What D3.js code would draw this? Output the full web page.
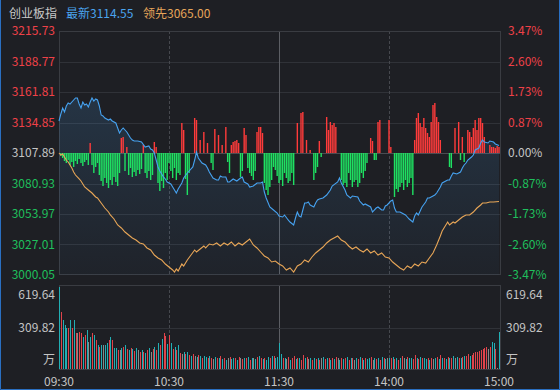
<!DOCTYPE html>
<html>
<head>
<meta charset="utf-8" />
<title>创业板指</title>
<script src="https://d3js.org/d3.v7.min.js"></script>
<style>
  body { margin: 0; background: #1e1f24; }
  svg text { font-family: "Noto Sans CJK SC", "Noto Sans", sans-serif; font-size: 12px; }
</style>
</head>
<body>
<script>

// ---- data ----
var indexName = "创业板指";
var lastPrice = 3114.55;
var leadPrice = 3065.00;
var basePrice = 3107.89;
var priceTicks = [3215.73, 3188.77, 3161.81, 3134.85, 3107.89, 3080.93, 3053.97, 3027.01, 3000.05];
var pctTicks = ["3.47%", "2.60%", "1.73%", "0.87%", "0.00%", "-0.87%", "-1.73%", "-2.60%", "-3.47%"];
var volTicks = [619.64, 309.82];
var volUnit = "万";
var timeTicks = [0, 60, 120, 180, 240];
var timeLabels = ["09:30", "10:30", "11:30", "14:00", "15:00"];

// [minute, value]
var indexLine = [[0,3136.18],[1,3142.36],[2,3147.67],[3,3144.13],[4,3149.44],[5,3152.09],[6,3151.20],[8,3154.74],[9,3156.51],[10,3156.51],[11,3151.20],[12,3147.67],[13,3152.97],[14,3150.32],[15,3151.20],[16,3148.55],[17,3152.97],[18,3156.51],[19,3153.85],[20,3155.62],[21,3154.74],[22,3149.44],[23,3141.48],[24,3140.60],[25,3138.83],[27,3137.06],[28,3137.94],[29,3136.18],[31,3134.41],[32,3129.99],[33,3125.57],[34,3128.22],[35,3129.99],[36,3128.22],[37,3126.45],[39,3121.15],[40,3119.38],[41,3118.50],[43,3118.50],[45,3117.61],[47,3113.19],[49,3114.08],[50,3111.43],[51,3110.54],[52,3107.89],[53,3101.70],[54,3095.52],[55,3091.98],[57,3086.68],[58,3084.91],[59,3082.26],[61,3080.49],[62,3077.84],[63,3075.19],[64,3072.53],[65,3076.07],[67,3081.37],[68,3085.79],[70,3090.21],[71,3091.98],[73,3095.52],[74,3101.70],[75,3108.77],[76,3103.47],[78,3099.05],[80,3097.28],[81,3094.63],[82,3091.10],[84,3085.79],[86,3084.02],[87,3084.02],[88,3087.56],[89,3086.68],[91,3086.68],[92,3082.26],[93,3082.26],[95,3084.91],[97,3083.14],[99,3085.79],[100,3086.68],[101,3082.26],[103,3080.49],[104,3077.84],[106,3078.72],[108,3081.37],[110,3081.37],[111,3082.26],[112,3073.42],[113,3068.11],[115,3060.16],[117,3057.51],[119,3054.85],[120,3052.20],[122,3051.32],[123,3053.09],[125,3048.67],[126,3046.90],[128,3044.25],[129,3050.44],[130,3055.74],[131,3052.20],[132,3051.32],[133,3057.51],[134,3063.69],[135,3063.69],[136,3064.58],[137,3061.93],[139,3060.16],[140,3063.69],[141,3066.35],[142,3067.23],[144,3068.11],[146,3070.77],[148,3075.19],[149,3078.72],[152,3082.26],[153,3085.79],[154,3081.37],[156,3075.19],[157,3070.77],[159,3068.11],[160,3069.88],[163,3069.00],[164,3065.46],[166,3061.93],[167,3062.81],[170,3060.16],[171,3055.74],[173,3059.27],[174,3060.16],[176,3057.51],[177,3057.51],[178,3061.04],[179,3061.93],[181,3065.46],[182,3066.35],[183,3059.27],[184,3055.74],[186,3055.74],[187,3054.85],[189,3053.09],[190,3051.32],[191,3049.55],[193,3046.90],[194,3052.20],[195,3054.85],[196,3053.09],[197,3056.62],[198,3060.16],[200,3064.58],[201,3068.11],[202,3068.11],[203,3069.00],[205,3070.77],[206,3072.53],[208,3077.84],[209,3081.37],[211,3083.14],[212,3084.02],[213,3084.02],[214,3087.56],[215,3090.21],[217,3089.33],[219,3091.10],[220,3094.63],[221,3097.28],[222,3099.05],[223,3101.70],[225,3104.35],[226,3106.12],[227,3110.54],[229,3112.31],[230,3116.73],[231,3119.38],[232,3117.61],[234,3116.73],[235,3118.50],[237,3117.61],[238,3115.85],[240,3114.55]];

var leadLine = [[0,3107.89],[1,3106.12],[2,3107.01],[3,3104.35],[4,3101.70],[5,3099.94],[7,3094.63],[8,3091.10],[9,3088.44],[11,3084.91],[12,3083.14],[14,3077.84],[16,3075.19],[18,3072.53],[20,3069.00],[21,3068.11],[23,3063.69],[25,3059.27],[27,3055.74],[28,3053.09],[30,3049.55],[32,3044.25],[34,3041.60],[36,3038.06],[38,3035.41],[40,3032.76],[42,3030.99],[44,3028.34],[46,3027.45],[48,3023.92],[50,3022.15],[52,3017.73],[54,3015.08],[56,3013.31],[58,3009.77],[60,3007.12],[62,3004.47],[63,3002.70],[64,3005.35],[65,3003.59],[67,3009.77],[68,3008.01],[70,3013.31],[72,3017.73],[74,3022.15],[75,3020.38],[77,3023.04],[79,3025.69],[80,3023.92],[82,3027.45],[84,3026.57],[86,3028.34],[88,3025.69],[90,3028.34],[92,3026.57],[94,3029.22],[96,3025.69],[98,3028.34],[100,3026.57],[102,3029.22],[104,3031.87],[106,3026.57],[108,3023.92],[110,3020.38],[112,3016.85],[114,3015.08],[116,3011.54],[118,3012.42],[120,3009.77],[122,3008.01],[124,3004.47],[126,3006.24],[128,3002.70],[130,3008.01],[132,3009.77],[134,3013.31],[136,3011.54],[138,3015.96],[140,3019.50],[142,3022.15],[144,3024.80],[146,3028.34],[148,3030.99],[150,3032.76],[152,3034.52],[154,3030.99],[156,3029.22],[158,3025.69],[160,3023.04],[162,3024.80],[164,3022.15],[166,3020.38],[168,3023.04],[170,3019.50],[172,3021.27],[174,3017.73],[176,3019.50],[178,3015.96],[180,3015.08],[182,3011.54],[184,3008.89],[186,3006.24],[188,3004.47],[190,3008.01],[192,3006.24],[194,3009.77],[196,3008.01],[198,3011.54],[200,3010.66],[202,3015.08],[204,3019.50],[206,3026.57],[208,3034.52],[209,3038.95],[210,3041.60],[212,3046.90],[213,3044.25],[215,3046.90],[216,3046.02],[218,3048.67],[220,3051.32],[222,3053.09],[224,3053.09],[226,3055.74],[228,3059.27],[230,3061.93],[231,3063.69],[233,3063.69],[235,3064.58],[237,3064.58],[240,3065.00]];

// red/green strength bars, one per minute
var flow = [
  0,-3,-5,-8,-10,-7,-12,-9,-14,-8,-11,-6,-10,-13,-9,-7,-12,10,-12,-20,
  -14,-10,-22,-28,-33,-25,-30,-35,-27,-32,-24,-29,-33,-20,15,16,-18,6,-22,-15,
  -24,-19,-23,-17,-21,-16,8,-20,-25,-18,-27,-22,11,6,-30,-38,-28,-35,-20,-27,
  -10,-18,-25,-15,-27,-20,-22,30,23,-26,-42,-20,0,0,35,33,0,13,0,21,
  0,10,0,-10,-17,24,0,18,0,8,0,26,-9,-20,8,11,12,13,10,-24,
  -18,25,18,-15,-20,-23,-27,-18,21,26,26,20,-30,-37,-42,-34,-27,-14,-17,-23,
  -30,-27,-33,-20,-25,-30,-28,-20,-32,0,30,0,40,41,0,13,0,3,0,-27,
  -20,-14,12,-4,0,0,36,23,31,28,30,26,0,0,-27,-32,-30,-34,-20,-27,
  -34,-29,-27,-34,-30,-20,-25,-18,-10,0,15,12,-7,-7,31,33,0,0,0,0,
  33,6,0,-44,-36,-39,-34,-30,-37,-27,-34,-30,-25,-42,13,35,40,30,26,35,
  25,20,16,31,48,50,36,31,13,0,0,0,0,-14,-15,0,25,0,31,-7,
  16,-9,0,23,21,16,25,33,23,35,35,30,16,0,0,8,6,6,5,7,6
];

// volume (万), one per minute
var volume = [
  619,430,370,333,310,310,370,310,370,272,272,280,272,242,257,295,204,242,272,257,
  220,181,170,181,181,181,196,220,242,220,160,160,145,145,160,170,181,150,140,155,
  150,135,160,140,125,145,130,120,140,160,125,150,170,140,200,180,230,270,250,190,
  260,200,150,170,140,180,120,110,130,115,125,105,95,110,100,90,105,95,85,100,
  90,80,95,85,75,90,80,85,95,75,80,70,85,90,75,80,85,70,90,80,
  75,85,80,90,70,80,85,75,90,95,80,75,85,70,90,85,95,100,85,90,
  200,110,85,80,75,90,70,85,95,75,80,85,70,105,80,90,75,85,70,80,
  75,85,70,80,90,75,85,80,70,85,75,90,80,70,85,75,80,90,70,85,
  80,70,85,75,90,80,70,85,75,80,90,70,85,75,80,70,90,85,75,80,
  80,85,90,75,80,70,85,95,80,75,90,80,85,75,105,80,75,90,80,85,
  75,80,70,85,75,80,90,75,105,85,80,75,90,85,80,95,85,90,80,85,
  90,95,100,110,95,105,120,125,130,135,140,150,155,165,150,165,205,195,150,10,280
];
// r = up, t = down, g = flat
var volDir = [
  "trtttrtrtrgrrtrtgtrt", "rtrtgttrtrttrgtrtrtr", "trtgrtrtrtgrtrtrtrrt",
  "rtrtrtrgtrtrtrgtrtrt", "trtrgtrtrtrtgrttrtrg", "rtrtrtgtrtrtrttrtrtt",
  "ttrtgrtrrtrtrrtrgtrt", "rtrgtrtrtrtrgtrtrtrt", "rgtrtrtrttrgtrtrtrtg",
  "trtrtrtrgtrttrrtrtrt", "trtrgtrtrtrtrtrtgtrt", "rtrrtrrrrrrrrrgrttrgt"
].join("");

// ---- drawing ----
var W = 560, H = 390;
var red = "#ef4148", green = "#1fbf5c", grey = "#c4c4c4";

var svg = d3.select("body").append("svg")
  .attr("width", W)
  .attr("height", H);

svg.append("rect").attr("width", W).attr("height", H).attr("fill", "#1e1f24");

var x = d3.scaleLinear().domain([0, 240]).range([59, 499]);
var y = d3.scaleLinear().domain([3000.05, 3215.73]).range([275, 31]);
var yVol = d3.scaleLinear().domain([0, 619.64]).range([369, 287]);
var y0 = y(basePrice);
var yFlow = d3.scaleLinear().domain([-60, 60]).range([y0 + 60, y0 - 60]);

// header
var head = svg.append("text").attr("x", 9).attr("y", 12).attr("dominant-baseline", "central");
head.append("tspan").attr("fill", "#c8c8c8").text(indexName);
head.append("tspan").attr("x", 66).attr("fill", "#4aa3ee").text("最新" + lastPrice.toFixed(2));
head.append("tspan").attr("x", 143).attr("fill", "#e6a55a").text("领先" + leadPrice.toFixed(2));

// grid - price panel
svg.selectAll(".hgrid")
  .data(priceTicks.slice(1, -1))
  .enter().append("line")
  .attr("x1", 59).attr("x2", 501)
  .attr("y1", function(d){ return Math.round(y(d)) + 0.5; })
  .attr("y2", function(d){ return Math.round(y(d)) + 0.5; })
  .attr("stroke", function(d){ return d === basePrice ? "#4a4c52" : "#303238"; });

var vlines = timeTicks.slice(1, -1);
[[31, 275], [285, 369]].forEach(function(r) {
  svg.selectAll(null)
    .data(vlines)
    .enter().append("line")
    .attr("x1", function(d){ return Math.round(x(d)) + 0.5; })
    .attr("x2", function(d){ return Math.round(x(d)) + 0.5; })
    .attr("y1", r[0]).attr("y2", r[1])
    .attr("stroke", function(d){ return d === 120 ? "#5c5e64" : "#46484e"; })
    .attr("stroke-dasharray", function(d){ return d === 120 ? null : "3,2"; });
});

// volume grid
svg.append("line")
  .attr("x1", 59).attr("x2", 501)
  .attr("y1", Math.round(yVol(volTicks[1])) + 0.5).attr("y2", Math.round(yVol(volTicks[1])) + 0.5)
  .attr("stroke", "#303238");

// frames
svg.append("rect").attr("x", 59.5).attr("y", 31.5).attr("width", 441).attr("height", 243)
  .attr("fill", "none").attr("stroke", "#3a3c42");
svg.append("rect").attr("x", 59.5).attr("y", 285.5).attr("width", 441).attr("height", 84)
  .attr("fill", "none").attr("stroke", "#3a3c42");

// area under index line
var defs = svg.append("defs");
var grad = defs.append("linearGradient").attr("id", "ga").attr("x1", 0).attr("y1", 0).attr("x2", 0).attr("y2", 1);
grad.append("stop").attr("offset", "0%").attr("stop-color", "#4aa3ee").attr("stop-opacity", 0.16);
grad.append("stop").attr("offset", "100%").attr("stop-color", "#4aa3ee").attr("stop-opacity", 0.03);

svg.append("path")
  .datum(indexLine)
  .attr("fill", "url(#ga)")
  .attr("d", d3.area()
    .x(function(d){ return x(d[0]); })
    .y0(275)
    .y1(function(d){ return y(d[1]); }));

// strength bars (zero values give zero height)
svg.selectAll(".flow")
  .data(flow)
  .enter().append("rect")
  .attr("x", function(d, i){ return x(i) - 0.7; })
  .attr("width", 1.4)
  .attr("y", function(d){ return d > 0 ? yFlow(d) : y0; })
  .attr("height", function(d){ return Math.abs(yFlow(d) - y0); })
  .attr("fill", function(d){ return d > 0 ? "#ff3b3b" : "#1fe062"; });

// lines
var line = d3.line()
  .x(function(d){ return x(d[0]); })
  .y(function(d){ return y(d[1]); });

svg.append("path").datum(leadLine)
  .attr("fill", "none").attr("stroke", "#e8a657").attr("stroke-width", 1.1)
  .attr("d", line);

svg.append("path").datum(indexLine)
  .attr("fill", "none").attr("stroke", "#46a2f0").attr("stroke-width", 1.1)
  .attr("d", line);

// volume bars
var volColor = { r: "#e0434b", t: "#22aeb4", g: "#8a8a8a" };
svg.selectAll(".vol")
  .data(volume)
  .enter().append("rect")
  .attr("shape-rendering", "crispEdges")
  .attr("x", function(d, i){ return Math.round(x(i)); })
  .attr("width", 1)
  .attr("y", function(d){ return yVol(d); })
  .attr("height", function(d){ return yVol(0) - yVol(d); })
  .attr("fill", function(d, i){ return volColor[volDir[i]]; });

// price labels
function tickColor(d) { return d > basePrice ? red : (d < basePrice ? green : grey); }

svg.selectAll(".pl")
  .data(priceTicks)
  .enter().append("text")
  .attr("x", 55)
  .attr("y", function(d){ return y(d); })
  .attr("dy", "0.35em")
  .attr("text-anchor", "end")
  .attr("fill", tickColor)
  .text(function(d){ return d.toFixed(2); });

svg.selectAll(".pr")
  .data(pctTicks)
  .enter().append("text")
  .attr("x", 508)
  .attr("y", function(d, i){ return y(priceTicks[i]); })
  .attr("dy", "0.35em")
  .attr("fill", function(d, i){ return tickColor(priceTicks[i]); })
  .text(function(d){ return d; });

// volume labels
[[55, "end"], [506, "start"]].forEach(function(s) {
  svg.selectAll(null)
    .data(volTicks)
    .enter().append("text")
    .attr("x", s[0])
    .attr("y", function(d, i){ return i === 0 ? yVol(d) + 8 : yVol(d); })
    .attr("dy", "0.35em")
    .attr("text-anchor", s[1])
    .attr("fill", grey)
    .text(function(d){ return d.toFixed(2); });
  svg.append("text")
    .attr("x", s[0]).attr("y", yVol(0) - 9)
    .attr("dy", "0.35em")
    .attr("text-anchor", s[1])
    .attr("fill", grey)
    .text(volUnit);
});

// time labels
svg.selectAll(".tl")
  .data(timeTicks)
  .enter().append("text")
  .attr("x", function(d){ return x(d); })
  .attr("y", 382)
  .attr("dy", "0.35em")
  .attr("text-anchor", "middle")
  .attr("fill", grey)
  .text(function(d, i){ return timeLabels[i]; });

// outer border
svg.append("path")
  .attr("d", "M0.5,0 V389.5 H559.5 V0")
  .attr("fill", "none")
  .attr("stroke", "#2a6fc2");

</script>
</body>
</html>
